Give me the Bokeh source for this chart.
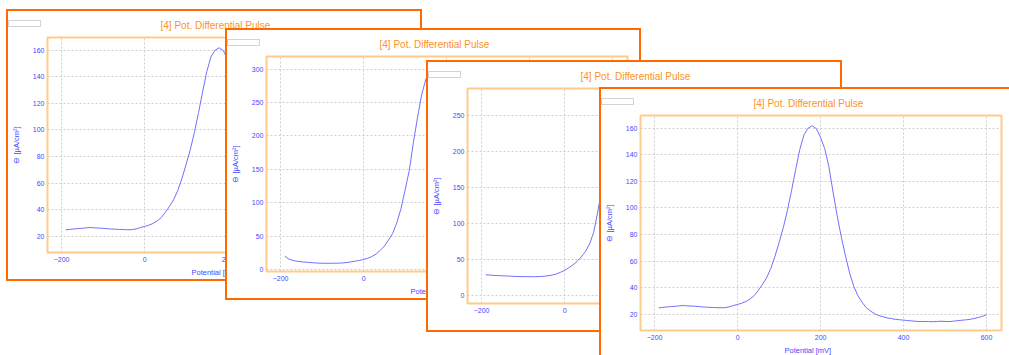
from bokeh.plotting import figure
from bokeh.models import Range1d, SingleIntervalTicker, Title, Column, Plot, Span
from bokeh.embed import file_html
from bokeh.resources import INLINE

# ---------------- data ----------------
potential_mv = list(range(-190, 601, 10))

current_a = [24.8, 25.2, 25.5, 25.8, 26.0, 26.4, 26.6, 26.3, 26.2, 26.0,
             25.7, 25.4, 25.3, 25.1, 25.0, 24.9, 25.0, 25.6, 26.6, 27.4,
             28.3, 29.6, 31.5, 34.0, 38.0, 42.5, 47.5, 54.5, 63.5, 74.0,
             85.0, 98.0, 113.0, 129.0, 144.0, 155.0, 160.0, 161.8, 159.5, 153.0,
             144.5, 131.0, 112.0, 94.0, 78.0, 64.0, 51.0, 41.0, 34.0, 29.0,
             25.0, 22.5, 20.5, 19.0, 18.2, 17.3, 16.8, 16.2, 15.9, 15.6,
             15.3, 15.0, 14.7, 14.5, 14.6, 14.5, 14.4, 14.6, 14.8, 14.6,
             14.5, 14.8, 15.2, 15.5, 15.8, 16.2, 16.8, 17.6, 18.5, 19.5]

current_b = [20.0, 15.5, 13.5, 12.3, 11.5, 11.0, 10.5, 10.0, 9.6, 9.4,
             9.3, 9.3, 9.4, 9.5, 9.8, 10.5, 11.5, 12.5, 13.6, 15.0,
             16.8, 19.5, 23.0, 28.5, 35.0, 44.0, 54.0, 70.0, 91.0, 119.0,
             148.0, 190.0, 228.0, 262.0, 285.0, 300.0, 308.0, 310.0, 305.0, 292.0,
             270.0, 240.0, 200.0, 160.0, 122.0, 90.0, 65.0, 47.0, 35.0, 27.0,
             22.0, 18.5, 16.0, 14.5, 13.4, 12.6, 12.0, 11.5, 11.1, 10.8,
             10.6, 10.4, 10.3, 10.2, 10.2, 10.1, 10.2, 10.3, 10.4, 10.5,
             10.7, 10.9, 11.2, 11.5, 11.9, 12.4, 13.0, 13.7, 14.5, 15.5]

current_c = [29.5, 29.0, 28.5, 28.2, 28.0, 27.7, 27.4, 27.1, 26.9, 26.8,
             26.8, 26.7, 26.7, 26.9, 27.3, 28.0, 29.0, 30.5, 32.8, 35.5,
             39.0, 43.0, 48.0, 54.0, 61.5, 72.0, 88.0, 117.0, 150.0, 185.0,
             218.0, 245.0, 262.0, 272.0, 276.0, 274.0, 266.0, 252.0, 232.0, 206.0,
             176.0, 145.0, 115.0, 89.0, 68.0, 52.0, 41.0, 34.0, 30.0, 27.5,
             25.8, 24.6, 23.8, 23.2, 22.8, 22.5, 22.3, 22.1, 22.0, 21.9,
             21.9, 21.8, 21.8, 21.8, 21.9, 22.0, 22.1, 22.3, 22.5, 22.7,
             23.0, 23.3, 23.7, 24.1, 24.6, 25.2, 25.9, 26.7, 27.6, 28.6]

title_text = "[4] Pot. Differential Pulse"
x_label = "Potential [mV]"
y_label = "\u2296 [\u00b5A/cm\u00b2]"

# ---------------- style ----------------
FONT = "Liberation Sans"
BLUE_TXT = "#4646FF"
LINE = "#7070FF"
ORANGE = "#FF6A00"
TITLE_ORANGE = "#FF9124"
FRAME = "#FFCB8A"
GRID = "#CFCFCF"

W, H = 412, 268
ML, MT, MR, MB = 39, 25, 12, 27


def make_window(ys, y0, y1, step, left, top, z):
    p = figure(width=W, height=H, x_range=Range1d(-234, 636), y_range=Range1d(y0, y1),
               output_backend="svg", toolbar_location=None,
               min_border_left=ML, min_border_right=MR, min_border_top=MT, min_border_bottom=MB,
               background_fill_color="white", border_fill_color="white")
    p.styles = {"position": "absolute", "left": f"{left}px", "top": f"{top}px",
                "outline": f"2px solid {ORANGE}", "z-index": str(z), "background": "white"}

    p.title.text = title_text
    p.title.align = "left"
    p.title.offset = 113
    p.title.text_font = FONT
    p.title.text_font_size = "10px"
    p.title.text_font_style = "normal"
    p.title.text_color = TITLE_ORANGE
    p.title.standoff = 13

    p.outline_line_color = FRAME
    p.outline_line_width = 2

    p.xaxis.ticker = SingleIntervalTicker(interval=200)
    p.yaxis.ticker = SingleIntervalTicker(interval=step)
    for ax in (p.xaxis[0], p.yaxis[0]):
        ax.axis_line_color = None
        ax.major_tick_line_color = None
        ax.minor_tick_line_color = None
        ax.major_tick_out = 0
        ax.major_tick_in = 0
        ax.minor_tick_out = 0
        ax.minor_tick_in = 0
        ax.major_label_text_font = FONT
        ax.major_label_text_font_size = "7px"
        ax.major_label_text_color = BLUE_TXT
    p.xaxis.major_label_standoff = 4
    p.yaxis.major_label_standoff = 3
    p.yaxis.axis_label = y_label
    p.yaxis.axis_label_text_font = FONT
    p.yaxis.axis_label_text_font_size = "7.5px"
    p.yaxis.axis_label_text_font_style = "normal"
    p.yaxis.axis_label_text_color = BLUE_TXT
    p.yaxis.axis_label_standoff = 9

    p.add_layout(Title(text=x_label, align="left", offset=144, text_font=FONT,
                       text_font_size="7.5px", text_font_style="normal",
                       text_color=BLUE_TXT, standoff=3), "below")

    p.xgrid.grid_line_color = GRID
    p.ygrid.grid_line_color = GRID
    p.xgrid.grid_line_dash = "2 2"
    p.ygrid.grid_line_dash = "2 2"

    p.line(potential_mv, ys, line_color=LINE, line_width=1)
    return p


def make_key(left, top, z):
    # small legend swatch box in the window's top-left corner
    k = Plot(width=31, height=5, x_range=Range1d(0, 1), y_range=Range1d(0, 1),
             toolbar_location=None, title_location=None, output_backend="svg",
             min_border=0, min_border_left=0, min_border_right=0,
             min_border_top=0, min_border_bottom=0,
             outline_line_color=None, background_fill_color="white",
             border_fill_color="white")
    k.add_layout(Span(location=0.5, dimension="width", line_color="#A9A9FF", line_width=2))
    k.styles = {"position": "absolute", "left": f"{left + 1}px", "top": f"{top + 10}px",
                "outline": "1px solid #D4D4D4", "z-index": str(z)}
    return k


positions = [(8, 11), (227, 30), (428, 62), (601, 89)]
series = [(current_a, 7.8, 169.5, 20), (current_b, -3, 319, 50),
          (current_c, -10.5, 288, 50), (current_a, 7.8, 169.5, 20)]

children = []
for i, ((left, top), (ys, y0, y1, step)) in enumerate(zip(positions, series)):
    children.append(make_window(ys, y0, y1, step, left, top, 10 * (i + 1)))
    children.append(make_key(left, top, 10 * (i + 1) + 1))

root = Column(children=children, width=1009, height=355, sizing_mode="fixed")
root.styles = {"position": "absolute", "left": "0px", "top": "0px", "width": "1009px",
               "height": "355px", "overflow": "hidden", "display": "block"}

open("out.html", "w").write(file_html(root, INLINE))
